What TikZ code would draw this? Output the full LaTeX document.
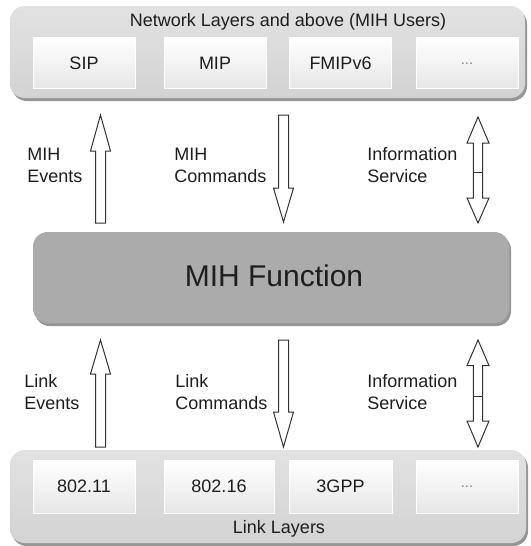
\documentclass[tikz,border=0pt]{standalone}
\usepackage{fontspec}
\setmainfont{Liberation Sans}
\usetikzlibrary{shadows}
\definecolor{layertop}{HTML}{E2E2E2}
\definecolor{layerbot}{HTML}{D3D3D3}
\definecolor{boxbot}{HTML}{E6E6E6}
\definecolor{mihgray}{HTML}{ABABAB}
\definecolor{txtcol}{HTML}{1E1E1E}
\definecolor{arrowcol}{HTML}{333333}
\begin{document}
\begin{tikzpicture}[x=0.75pt,y=-0.75pt,
  shadowed/.style={drop shadow={shadow xshift=1.5pt, shadow yshift=-2.25pt, fill=black!75, opacity=0.55}},
  layer/.style={rounded corners=11pt, top color=layertop, bottom color=layerbot, draw=none, inner sep=0pt, shadowed},
  inbox/.style={top color=white, bottom color=boxbot, draw=white, line width=0.75pt, inner sep=0pt,
    minimum height=38.6pt, font=\fontsize{13.5}{16.5}\selectfont, text=txtcol},
  mihbox/.style={rounded corners=11pt, fill=mihgray, draw=none, inner sep=0pt, shadowed},
  txt/.style={font=\fontsize{13.5}{16.5}\selectfont, text=txtcol, inner sep=0pt},
  lbl/.style={txt, align=left, anchor=west},
  dotstxt/.style={font=\fontsize{11}{13}\selectfont, text=gray},
  blockarrow/.style={draw=arrowcol, line width=0.75pt, fill=white, line join=miter}
]
\useasboundingbox (0,0) rectangle (531,546);

% ---- top layer
\node[layer, minimum width=386.25pt, minimum height=69pt] (net) at (267.5,52) {};
\node[txt] (nettitle) at (288,22) {Network Layers and above (MIH Users)};
\node[inbox, minimum width=76.5pt] (sip) at (84,63.25) {SIP};
\node[inbox, minimum width=76.5pt] (mip) at (215,63.25) {MIP};
\node[inbox, minimum width=76pt] (fmip) at (340.5,63.25) {FMIPv6};
\node[inbox, dotstxt, minimum width=76.5pt] (udots) at (467,63.25) {...};

% ---- MIH function
\node[mihbox, minimum width=357pt, minimum height=68.25pt] (mih) at (271,277.5) {};
\node[txt, font=\fontsize{22.5}{27}\selectfont] (mihtext) at (274,276) {MIH Function};

% ---- bottom layer
\node[layer, minimum width=387pt, minimum height=69.75pt] (link) at (268,496.5) {};
\node[inbox, minimum width=76.5pt, minimum height=39.75pt] (w11) at (84,486.5) {802.11};
\node[inbox, minimum width=82.5pt, minimum height=39.75pt] (w16) at (219,486.5) {802.16};
\node[inbox, minimum width=77.25pt, minimum height=39.75pt] (gpp) at (340.5,486.5) {3GPP};
\node[inbox, dotstxt, minimum width=76.5pt, minimum height=39.75pt] (ldots) at (467,486.5) {...};
\node[txt] (linktitle) at (279,529) {Link Layers};

% ---- upper arrows
\coordinate (ev1) at (100.5,115);
\draw[blockarrow] (ev1) -- ++(10,36) -- ++(-5,0) -- ++(0,72) -- ++(-10,0) -- ++(0,-72) -- ++(-5,0) -- cycle;
\coordinate (cm1) at (283.5,222);
\draw[blockarrow] (cm1) -- ++(10,-34) -- ++(-5,0) -- ++(0,-73) -- ++(-10,0) -- ++(0,73) -- ++(-5,0) -- cycle;
\coordinate (is1) at (478,117);
\draw[blockarrow] (is1) -- ++(11,26) -- ++(-6.3,0) -- ++(0,55) -- ++(6.3,0) -- ++(-11,25) -- ++(-11,-25) -- ++(6.3,0) -- ++(0,-55) -- ++(-6.3,0) -- cycle;
\draw[arrowcol, line width=0.75pt] (473.3,172) -- (482.7,172);

\node[lbl] (lb1) at (27,165) {MIH\\Events};
\node[lbl] (lb2) at (174,165) {MIH\\Commands};
\node[lbl] (lb3) at (367,165) {Information\\Service};

% ---- lower arrows
\coordinate (ev2) at (100.5,340);
\draw[blockarrow] (ev2) -- ++(10,34) -- ++(-5,0) -- ++(0,73) -- ++(-10,0) -- ++(0,-73) -- ++(-5,0) -- cycle;
\coordinate (cm2) at (283.5,447);
\draw[blockarrow] (cm2) -- ++(10,-35) -- ++(-5,0) -- ++(0,-72) -- ++(-10,0) -- ++(0,72) -- ++(-5,0) -- cycle;
\coordinate (is2) at (478,340);
\draw[blockarrow] (is2) -- ++(11,25.5) -- ++(-6.3,0) -- ++(0,55.5) -- ++(6.3,0) -- ++(-11,26) -- ++(-11,-26) -- ++(6.3,0) -- ++(0,-55.5) -- ++(-6.3,0) -- cycle;
\draw[arrowcol, line width=0.75pt] (473.3,396) -- (482.7,396);

\node[lbl] (lb4) at (24,392.5) {Link\\Events};
\node[lbl] (lb5) at (175,392.5) {Link\\Commands};
\node[lbl] (lb6) at (367,392.5) {Information\\Service};
\end{tikzpicture}
\end{document}
